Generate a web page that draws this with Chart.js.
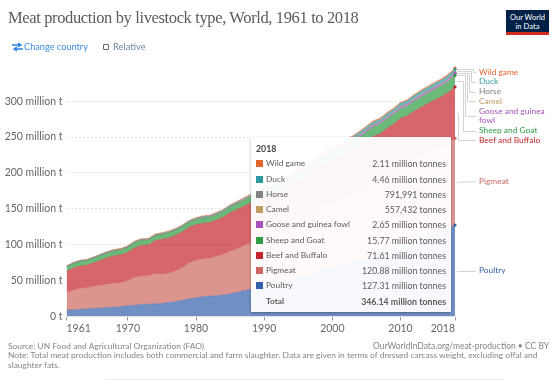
<!DOCTYPE html>
<html><head><meta charset="utf-8">
<script src="https://cdn.jsdelivr.net/npm/chart.js@4"></script>
<style>
html,body{margin:0;padding:0;background:#fff;width:559px;height:381px;overflow:hidden;font-family:Lato,sans-serif}
canvas{position:absolute;left:0;top:0}
.abs{position:absolute;white-space:nowrap}
#tip{position:absolute;left:251px;top:137px;width:200px;height:175px;background:rgba(255,255,255,.95);box-shadow:0 1px 3px rgba(0,0,0,.3);border-radius:1px;color:#5b5b5b;font-size:8.8px}
#tip .r{position:absolute;left:0;right:0;height:11px;line-height:11px}
#tip i{position:absolute;left:5px;top:2px;width:7px;height:7px}
#tip .n{position:absolute;left:15px;font-size:8.4px}
#tip .v{position:absolute;right:5px}
</style></head><body>
<canvas id="c" width="559" height="381"></canvas>
<div class="abs" style="left:8px;top:7px;font:16.5px/22px 'Liberation Serif',serif;letter-spacing:-.37px;color:#5b5b5b">Meat production by livestock type, World, 1961 to 2018</div>
<div class="abs" style="left:506px;top:10px;width:43px;height:25px;background:#002147;border-bottom:3px solid #d42b21;box-sizing:border-box;color:#fff;font-size:7.6px;line-height:9px;text-align:center;padding-top:3px">Our World<br>in Data</div>
<svg class="abs" style="left:12px;top:42px" width="11" height="10" viewBox="0 0 11 10"><path d="M0 3h8M6 1l3 2-3 2M11 7H3M5 5L2 7l3 2" stroke="#2a80e8" stroke-width="1.3" fill="none"/></svg>
<div class="abs" style="left:24px;top:41px;font-size:9.2px;line-height:12px;color:#3d8ee8">Change country</div>
<div class="abs" style="left:103px;top:44px;width:4px;height:4px;border:1px solid #666;border-radius:1px"></div>
<div class="abs" style="left:113px;top:41px;font-size:9.4px;line-height:12px;color:#6e87a8">Relative</div>
<div id="labels"></div>
<div id="tip"></div>
<div class="abs" style="left:8px;top:342px;font-size:8.43px;line-height:9.4px;color:#858585">Source: UN Food and Agricultural Organization (FAO)<br>Note: Total meat production includes both commercial and farm slaughter. Data are given in terms of dressed carcass weight, excluding offal and<br>slaughter fats.</div>
<div class="abs" style="right:10px;top:342px;font-size:8.5px;line-height:9.4px;color:#858585">OurWorldInData.org/meat-production • CC BY</div>
<div class="abs" style="left:105px;top:379px;width:400px;height:1px;background:#eee"></div>
<script>
const years=[1961,1962,1963,1964,1965,1966,1967,1968,1969,1970,1971,1972,1973,1974,1975,1976,1977,1978,1979,1980,1981,1982,1983,1984,1985,1986,1987,1988,1989,1990,1991,1992,1993,1994,1995,1996,1997,1998,1999,2000,2001,2002,2003,2004,2005,2006,2007,2008,2009,2010,2011,2012,2013,2014,2015,2016,2017,2018];
const poultry=[9.0,9.4,10,10.6,11.3,12,12.5,12.9,13.8,15.1,15.7,16.8,17.2,17.7,18,19.5,20.7,22.5,24.7,26,27.5,28.5,29,30,31.5,33.5,36,38,39.5,41.5,43.5,45.5,48,51.5,55,57.5,61,63,66,69,71,74,75.5,78,81.5,84,87.5,92,94.5,99,102.5,106,108.5,111,115,118.5,122,127.31];
const pigmeat=[24.5,27,29,29.5,30.7,31.5,32.5,33.3,33.3,35,38.5,39.5,39.5,42,41,40.5,43,45.5,50,52,52.5,52.5,55,56.5,59,60.5,62.5,64.5,66,69,70,71,73,76,78.5,79,82,86.5,88.5,89.5,91.5,94,96,98,100.5,103,101.5,104.5,107.5,110,110.5,113,115.5,117.5,118.5,118,119.5,120.88];
const beef=[29.5,31,31.5,31.5,33,35,37,38.5,39,39.5,41.5,43,43,46,48.5,49.5,49.5,50,49.5,50,50,50,50.5,52,54,55,55,55.5,55.5,56,56,55,54.5,55.5,56.5,57,57.5,57.5,58.5,59.5,58,60,60.5,62,62.5,64,65.5,65.5,66,67,66.5,67,67.5,68,68,69.5,70.5,71.61];
const sheep=[6,6.2,6.2,6.3,6.3,6.5,6.6,6.7,6.7,6.9,7,7,6.7,6.7,6.9,7,7,7,7,7.1,7.2,7.2,7.4,7.6,7.8,7.9,8.1,8.3,9,9.6,9.7,9.9,9.9,10,10.4,10.7,11,11,11.2,11.3,11.4,11.4,11.7,12.2,12.6,13,13.2,13.3,13.2,13.2,13.3,13.6,14,14.4,14.8,15,15.3,15.77];
const goose=[.19,.2,.2,.21,.22,.22,.23,.24,.24,.25,.26,.27,.27,.28,.28,.29,.3,.31,.32,.33,.35,.37,.38,.4,.42,.46,.5,.55,.6,.65,.7,.75,.82,.95,1.1,1.25,1.4,1.5,1.6,1.75,1.85,1.95,2.0,2.05,2.1,2.15,2.2,2.25,2.3,2.35,2.4,2.45,2.5,2.5,2.55,2.55,2.6,2.65];
const camel=[.12,.12,.12,.12,.12,.13,.13,.13,.13,.13,.14,.14,.14,.14,.15,.15,.15,.15,.16,.16,.16,.16,.17,.17,.17,.18,.18,.19,.19,.2,.2,.21,.21,.22,.23,.24,.25,.26,.27,.28,.29,.3,.32,.33,.35,.36,.38,.4,.42,.43,.45,.46,.47,.49,.5,.52,.54,.557];
const horse=[.39,.4,.4,.41,.42,.42,.42,.43,.43,.44,.44,.44,.45,.45,.46,.46,.47,.47,.47,.48,.48,.49,.5,.5,.51,.52,.53,.54,.55,.56,.58,.6,.62,.64,.66,.66,.66,.65,.64,.64,.65,.66,.67,.68,.7,.7,.71,.72,.73,.74,.75,.76,.77,.78,.78,.79,.79,.792];
const duck=[.42,.43,.45,.46,.48,.5,.52,.54,.55,.57,.6,.62,.65,.68,.7,.73,.77,.8,.84,.88,.93,.98,1.03,1.08,1.14,1.2,1.3,1.4,1.5,1.6,1.72,1.85,2,2.15,2.3,2.45,2.55,2.65,2.8,2.95,3.05,3.15,3.25,3.3,3.4,3.5,3.55,3.65,3.75,3.85,3.95,4.05,4.1,4.2,4.25,4.3,4.4,4.46];
const wild=[.72,.74,.76,.78,.8,.82,.84,.86,.88,.9,.92,.94,.96,.98,1,1.02,1.04,1.06,1.08,1.1,1.12,1.14,1.16,1.18,1.2,1.22,1.24,1.26,1.28,1.3,1.35,1.38,1.4,1.44,1.48,1.5,1.55,1.58,1.6,1.65,1.68,1.7,1.75,1.78,1.8,1.82,1.85,1.88,1.9,1.92,1.95,1.98,2,2.02,2.05,2.08,2.1,2.11];
const seriesNames=['Poultry','Pigmeat','Beef and Buffalo','Sheep and Goat','Goose and guinea fowl','Camel','Horse','Duck','Wild game'];
const seriesValues=[poultry,pigmeat,beef,sheep,goose,camel,horse,duck,wild];
const seriesColors=['#3360a9','#cd665f','#c4252c','#2c9d40','#a652ba','#be9d5f','#818282','#2c9a9f','#e5642c'];
const xTicks=[1961,1970,1980,1990,2000,2010,2018];
const tipValues=['127.31 million tonnes','120.88 million tonnes','71.61 million tonnes','15.77 million tonnes','2.65 million tonnes','557,432 tonnes','791,991 tonnes','4.46 million tonnes','2.11 million tonnes'];
const tipTotal='346.14 million tonnes';
const tipYear='2018';
const yMax=346.14;

/* layout of end labels: text centre y, elbow x */
const endLabelY=[270.5,181,140,130.5,115.5,101,91.5,81.5,72];
const elbowX=[null,null,458,463,465,467,469,471,473];
const labelsEl=document.getElementById('labels');
seriesNames.forEach((n,i)=>{
  const d=document.createElement('div');d.className='abs';
  const wrap=n.startsWith('Goose');
  d.style.cssText=`left:479px;top:${endLabelY[i]-(wrap?9:4.5)}px;font-size:8.4px;line-height:9px;color:${seriesColors[i]};`;
  d.innerHTML=wrap?'Goose and guinea<br>fowl':n;
  labelsEl.appendChild(d);
});
const tip=document.getElementById('tip');
const rowY=[148,163.5,179,194,209,224.5,240,255,270.5,285.5,301];
let html=`<div class="r" style="top:${rowY[0]-137-5.5}px;padding-left:5px;font-weight:700;color:#444">${tipYear}</div>`;
for(let k=8;k>=0;k--){const r=9-k;
  html+=`<div class="r" style="top:${rowY[r]-137-5.5}px"><i style="background:${seriesColors[k]}"></i><span class="n">${seriesNames[k]}</span><span class="v">${tipValues[k]}</span></div>`;}
html+=`<div class="r" style="top:${rowY[10]-137-5.5}px;font-weight:700"><span class="n">Total</span><span class="v">${tipTotal}</span></div>`;
tip.innerHTML=html;

const connectors={id:'connectors',afterDatasetsDraw(ch){
  const g=ch.ctx,y=ch.scales.y,xr=ch.chartArea.right;
  g.save();g.strokeStyle='#d4d4d4';g.lineWidth=1;
  let base=0;
  seriesValues.forEach((v,i)=>{
    const val=v[v.length-1],my=Math.round(y.getPixelForValue(base+val/2))+.5;base+=val;
    const ly=Math.round(endLabelY[i])+.5,ex=elbowX[i];
    g.beginPath();g.moveTo(xr+2,my);
    if(ex!==null){g.lineTo(ex+.5,my);g.lineTo(ex+.5,ly);}
    g.lineTo(476,ly);g.stroke();
  });
  g.restore();
}};

new Chart(document.getElementById('c'),{
  type:'line',
  data:{labels:years,datasets:seriesNames.map((n,i)=>({
    label:n,
    data:years.map((yr,k)=>({x:yr,y:seriesValues[i][k]})),
    fill:i===0?'origin':'-1',
    backgroundColor:seriesColors[i]+'b3',
    borderColor:seriesColors[i]+'99',
    borderWidth:.5,tension:0,clip:false,
    pointBackgroundColor:seriesColors[i],pointBorderWidth:0,
    pointRadius:c=>c.dataIndex===years.length-1?1.6:0,
    pointHoverRadius:0
  }))},
  options:{
    responsive:false,animation:false,
    events:[],
    layout:{padding:{left:0,top:68,right:104,bottom:0}},
    plugins:{legend:{display:false},tooltip:{enabled:false},title:{display:false}},
    scales:{
      x:{type:'linear',min:1961,max:2018,
        afterBuildTicks(a){a.ticks=xTicks.map(v=>({value:v}));},
        afterFit(a){a.height=64.5;},
        grid:{drawOnChartArea:false,drawTicks:true,tickLength:4,color:'#999'},
        border:{display:false},
        ticks:{autoSkip:false,maxRotation:0,align:'inner',padding:2,color:'#666',font:{family:'Lato',size:10.5},callback:v=>String(v)}},
      y:{stacked:true,min:0,max:yMax,
        afterFit(a){a.width=66.5;},
        grid:{color:'#e0e0e0',tickLength:0,drawTicks:false},
        border:{display:false,dash:[2,2]},
        ticks:{stepSize:50,includeBounds:false,padding:4,color:'#666',font:{family:'Lato',size:10.5},
          callback:v=>v===0?'0 t':v+' million t'}}
    }
  },
  plugins:[connectors]
});
</script>
</body></html>
